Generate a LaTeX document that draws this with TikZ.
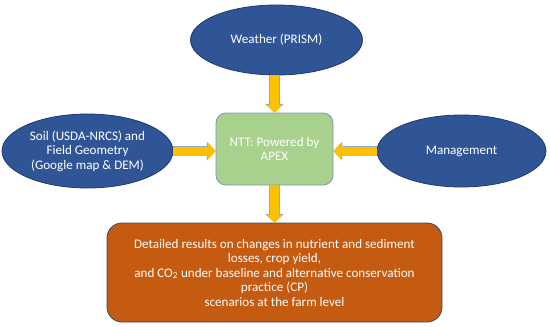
\documentclass[tikz,border=0pt]{standalone}
\usepackage{fontspec}
\setmainfont{Carlito}
\usetikzlibrary{shapes.geometric,arrows.meta}
\definecolor{ellblue}{HTML}{2F5597}
\definecolor{ellline}{HTML}{1F3A6E}
\definecolor{boxgreen}{HTML}{A9D18E}
\definecolor{greenline}{HTML}{7A93B8}
\definecolor{boxorange}{HTML}{C55A11}
\definecolor{orangeline}{HTML}{3B4A5E}
\definecolor{arryellow}{HTML}{FFC000}
\definecolor{arrline}{HTML}{8FAADC}
\tikzset{
  txt/.style={text=white, align=center, font=\fontsize{13.1}{14.5}\selectfont, inner sep=0pt},
  inell/.style={txt, ellipse, fill=ellblue, draw=ellline, line width=0.8pt},
  ntt/.style={txt, rectangle, rounded corners=10pt, fill=boxgreen, draw=greenline, line width=0.8pt},
  outbox/.style={txt, rectangle, rounded corners=15pt, fill=boxorange, draw=orangeline, line width=0.8pt},
  blockarrow/.style={line width=9pt, draw=arryellow, -{Triangle[width=16pt,length=7.5pt]},
    preaction={draw=arrline, line width=10.4pt, -{Triangle[width=18.2pt,length=8.8pt]}}}
}
\begin{document}
\begin{tikzpicture}[x=1pt,y=-1pt]
\useasboundingbox (0,0) rectangle (550,327);
\node[inell, minimum width=172pt, minimum height=70pt] (weather) at (276.5,40) {Weather (PRISM)};
\node[inell, minimum width=171pt, minimum height=74pt] (soil) at (87.5,151) {Soil (USDA-NRCS) and\\Field Geometry\\(Google map \& DEM)};
\node[inell, minimum width=169pt, minimum height=72pt] (mgmt) at (461.5,151) {Management};
\node[ntt, minimum width=117pt, minimum height=72pt] (apex) at (274.5,149) {NTT: Powered by\\APEX};
\node[outbox, minimum width=335pt, minimum height=99pt] (results) at (274.5,272.5) {Detailed results on changes in nutrient and sediment\\losses, crop yield,\\and CO\textsubscript{2} under baseline and alternative conservation\\practice (CP)\\scenarios at the farm level};
\draw[blockarrow] (weather.south -| apex.north) -- (apex.north);
\draw[blockarrow] (soil.east) -- (soil.east -| apex.west);
\draw[blockarrow] (mgmt.west) -- (mgmt.west -| apex.east);
\draw[blockarrow] (apex.south) -- (results.north);
\end{tikzpicture}
\end{document}
